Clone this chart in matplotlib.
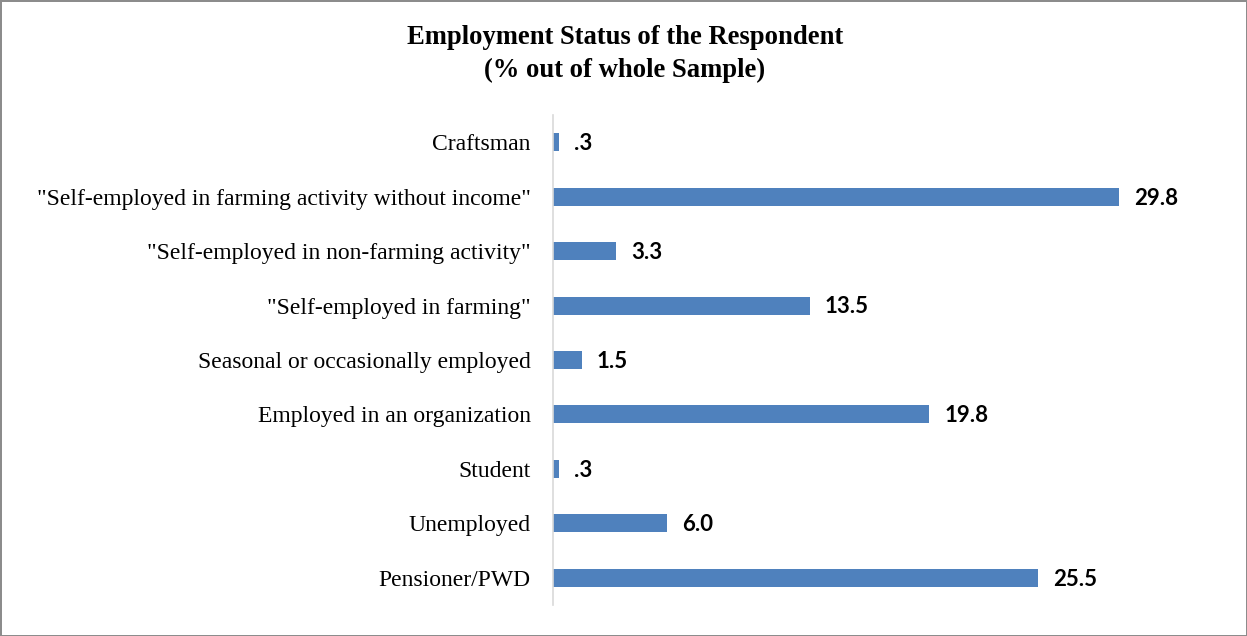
import matplotlib.pyplot as plt

# employment categories, top to bottom as shown
categories = [
    "Craftsman",
    "\"Self-employed in farming activity without income\"",
    "\"Self-employed in non-farming activity\"",
    "\"Self-employed in farming\"",
    "Seasonal or occasionally employed",
    "Employed in an organization",
    "Student",
    "Unemployed",
    "Pensioner/PWD",
]
percent = [0.3, 29.8, 3.3, 13.5, 1.5, 19.8, 0.3, 6.0, 25.5]
value_labels = [".3", "29.8", "3.3", "13.5", "1.5", "19.8", ".3", "6.0", "25.5"]

fig = plt.figure(figsize=(12.47, 6.36), dpi=100)
fig.patch.set_edgecolor("#8c8c8c")
fig.patch.set_linewidth(2)

ax = fig.add_axes([553 / 1247, 1 - 605 / 636, 608 / 1247, 490 / 636])
ypos = list(range(len(categories)))[::-1]
ax.barh(ypos, percent, height=0.33, color="#4F81BD")

for y, v, lab in zip(ypos, percent, value_labels):
    ax.annotate(lab, (v, y), xytext=(11, -1), textcoords="offset points",
                va="center", ha="left", fontsize=16, fontweight="bold",
                family="Lato", color="black")

ax.set_xlim(0, 32)
ax.set_ylim(-0.5, 8.5)
ax.set_yticks(ypos)
ax.set_yticklabels(categories, family="Liberation Serif", fontsize=17)
ax.tick_params(axis="y", length=0, pad=16)
ax.set_xticks([])
for s in ["top", "right", "bottom"]:
    ax.spines[s].set_visible(False)
ax.spines["left"].set_color("#d9d9d9")
ax.spines["left"].set_linewidth(1.2)

fig.text(625 / 1247, 1 - 54 / 636,
         "Employment Status of the Respondent\n(% out of whole Sample)",
         ha="center", va="center", family="Liberation Serif",
         fontweight="bold", fontsize=19.2, linespacing=1.45)

fig.savefig("out.png", dpi=100, edgecolor=fig.get_edgecolor())
